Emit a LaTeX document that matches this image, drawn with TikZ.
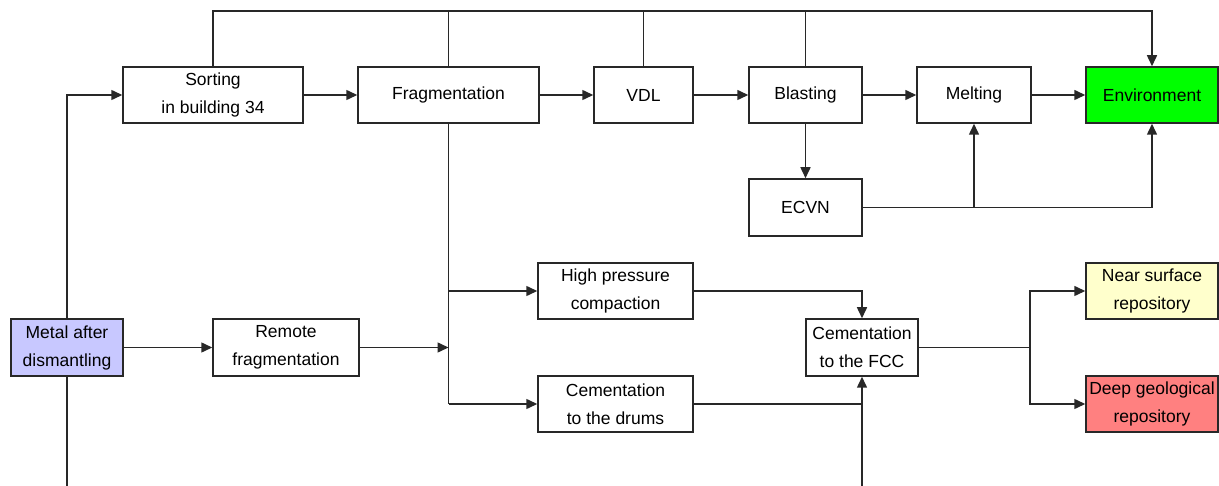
\documentclass[tikz,border=0pt]{standalone}
\usepackage{fontspec}
\setmainfont{Liberation Sans}
\usetikzlibrary{arrows.meta}
\definecolor{envgreen}{RGB}{0,255,0}
\definecolor{metalblue}{RGB}{200,200,255}
\definecolor{nearyellow}{RGB}{255,255,204}
\definecolor{deepred}{RGB}{255,128,128}
\definecolor{linegray}{RGB}{40,40,40}
\tikzset{
  box/.style={draw=linegray, line width=1.5pt, fill=white, inner sep=0pt,
    align=center, font=\fontsize{17.5}{28}\selectfont},
  link/.style={draw=linegray, line width=1.5pt},
  arr/.style={link, -{Triangle[length=11pt,width=10pt]}}
}
\begin{document}
\begin{tikzpicture}[x=1pt,y=-1pt]
\useasboundingbox (0,0) rectangle (1219,486);
% upper process chain
\node[box, minimum width=180pt, minimum height=56pt] (sort)  at (213,95)   {Sorting\\in building 34};
\node[box, minimum width=181pt, minimum height=56pt] (frag)  at (448.5,95) {Fragmentation};
\node[box, minimum width=99pt,  minimum height=56pt] (vdl)   at (643.5,95) {VDL};
\node[box, minimum width=113pt, minimum height=56pt] (blast) at (805.5,95) {Blasting};
\node[box, minimum width=114pt, minimum height=56pt] (melt)  at (974,95)   {Melting};
\node[box, fill=envgreen, minimum width=132pt, minimum height=56pt] (env) at (1152,95) {Environment};
\node[box, minimum width=113pt, minimum height=57pt] (ecvn)  at (805.5,207.5) {ECVN};
% lower process chain
\node[box, fill=metalblue, minimum width=112pt, minimum height=57pt] (metal) at (67,347.5) {Metal after\\dismantling};
\node[box, minimum width=146pt, minimum height=57pt] (remote) at (286,347.5) {Remote\\fragmentation};
\node[box, minimum width=155pt, minimum height=56pt] (hpc)   at (615.5,291) {High pressure\\compaction};
\node[box, minimum width=155pt, minimum height=56pt] (drums) at (615.5,404) {Cementation\\to the drums};
\node[box, minimum width=112pt, minimum height=57pt] (fcc)   at (862,347.5) {Cementation\\to the FCC};
\node[box, fill=nearyellow, minimum width=132pt, minimum height=56pt] (near) at (1152,291) {Near surface\\repository};
\node[box, fill=deepred,    minimum width=132pt, minimum height=56pt] (deep) at (1152,404) {Deep geological\\repository};
% junction points and free ends
\coordinate (bus)   at (213,11);
\coordinate (fjoin) at (448.5,347.5);
\coordinate (split) at (1030,347.5);
\coordinate (mbot)  at (67,486);
\coordinate (fbot)  at (862,486);
% top bus into the environment
\draw[arr] (sort.north) -- (bus) -| (env.north);
\draw[link] (frag.north) -- (frag.north |- bus);
\draw[link] (vdl.north) -- (vdl.north |- bus);
\draw[link] (blast.north) -- (blast.north |- bus);
% main horizontal flow
\draw[arr] (metal.north) |- (sort.west);
\draw[link] (metal.south) -- (mbot);
\draw[arr] (sort) -- (frag);
\draw[arr] (frag) -- (vdl);
\draw[arr] (vdl) -- (blast);
\draw[arr] (blast) -- (melt);
\draw[arr] (melt) -- (env);
\draw[arr] (blast) -- (ecvn);
\draw[arr] (ecvn.east) -| (melt.south);
\draw[arr] (ecvn.east) -| (env.south);
% fragmentation branch
\draw[arr] (metal) -- (remote);
\draw[arr] (remote) -- (fjoin);
\draw[link] (frag.south) -- (frag.south |- drums.west);
\draw[arr] (frag.south |- hpc.west) -- (hpc.west);
\draw[arr] (frag.south |- drums.west) -- (drums.west);
% conditioning and disposal
\draw[arr] (hpc.east) -| (fcc.north);
\draw[arr] (drums.east) -| (fcc.south);
\draw[link] (fbot) -- (fcc.south |- drums.east);
\draw[link] (fcc.east) -- (split);
\draw[arr] (split) |- (near.west);
\draw[arr] (split) |- (deep.west);
\end{tikzpicture}
\end{document}
